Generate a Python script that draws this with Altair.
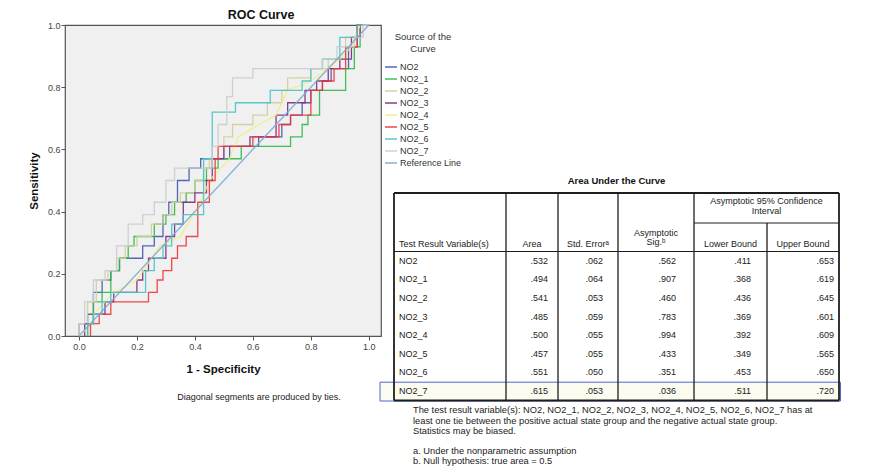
import altair as alt
import pandas as pd

FONT = "Liberation Sans"

# ---------------- ROC curves: (1 - specificity, sensitivity) corner points
NO2 = [(0.00, 0.00), (0.00, 0.04), (0.03, 0.04), (0.03, 0.07), (0.05, 0.07), (0.05, 0.14), (0.08, 0.14),
       (0.08, 0.18), (0.11, 0.18), (0.11, 0.21), (0.14, 0.21), (0.14, 0.25), (0.22, 0.25), (0.22, 0.29),
       (0.26, 0.29), (0.26, 0.32), (0.29, 0.32), (0.29, 0.39), (0.31, 0.39), (0.31, 0.43), (0.34, 0.43),
       (0.34, 0.50), (0.38, 0.50), (0.38, 0.54), (0.42, 0.54), (0.42, 0.57), (0.52, 0.57), (0.52, 0.61),
       (0.62, 0.61), (0.62, 0.64), (0.70, 0.64), (0.70, 0.68), (0.73, 0.68), (0.73, 0.71), (0.77, 0.71),
       (0.77, 0.75), (0.80, 0.75), (0.80, 0.79), (0.84, 0.79), (0.84, 0.82), (0.87, 0.82), (0.87, 0.86),
       (0.93, 0.86), (0.93, 0.93), (0.96, 0.93), (0.96, 1.00), (1.00, 1.00)]
NO2_1 = [(0.03, 0.00), (0.03, 0.04), (0.05, 0.04), (0.05, 0.11), (0.08, 0.11), (0.08, 0.14), (0.11, 0.14),
         (0.11, 0.21), (0.14, 0.21), (0.14, 0.25), (0.17, 0.25), (0.17, 0.29), (0.19, 0.29), (0.19, 0.32),
         (0.26, 0.32), (0.26, 0.36), (0.30, 0.36), (0.30, 0.39), (0.33, 0.39), (0.33, 0.43), (0.37, 0.43),
         (0.37, 0.46), (0.40, 0.46), (0.40, 0.50), (0.44, 0.50), (0.44, 0.54), (0.48, 0.54), (0.48, 0.57),
         (0.56, 0.57), (0.56, 0.61), (0.73, 0.61), (0.73, 0.64), (0.77, 0.64), (0.77, 0.68), (0.79, 0.68),
         (0.79, 0.71), (0.83, 0.71), (0.83, 0.79), (0.92, 0.79), (0.92, 0.86), (0.95, 0.86), (0.95, 0.93),
         (0.97, 0.93), (0.97, 1.00), (1.00, 1.00)]
NO2_2 = [(0.00, 0.00), (0.00, 0.04), (0.03, 0.04), (0.03, 0.11), (0.06, 0.11), (0.06, 0.18), (0.10, 0.18),
         (0.10, 0.21), (0.13, 0.21), (0.13, 0.25), (0.16, 0.25), (0.16, 0.29), (0.20, 0.29), (0.20, 0.32),
         (0.25, 0.32), (0.25, 0.36), (0.29, 0.36), (0.29, 0.39), (0.32, 0.39), (0.32, 0.43), (0.35, 0.43),
         (0.35, 0.46), (0.40, 0.46), (0.40, 0.50), (0.43, 0.50), (0.43, 0.54), (0.45, 0.54), (0.45, 0.57),
         (0.50, 0.57), (0.50, 0.64), (0.53, 0.64), (0.53, 0.68), (0.60, 0.68), (0.60, 0.71), (0.65, 0.71),
         (0.65, 0.75), (0.70, 0.75), (0.70, 0.79), (0.72, 0.79), (0.72, 0.83), (0.80, 0.83), (0.80, 0.86),
         (0.86, 0.86), (0.86, 0.89), (0.92, 0.89), (0.92, 0.96), (0.97, 0.96), (0.97, 1.00), (1.00, 1.00)]
NO2_3 = [(0.02, 0.00), (0.02, 0.04), (0.05, 0.04), (0.05, 0.07), (0.09, 0.07), (0.09, 0.11), (0.12, 0.11),
         (0.12, 0.14), (0.20, 0.14), (0.20, 0.18), (0.22, 0.18), (0.22, 0.21), (0.24, 0.21), (0.24, 0.25),
         (0.30, 0.25), (0.30, 0.32), (0.33, 0.32), (0.33, 0.36), (0.36, 0.36), (0.36, 0.43), (0.40, 0.43),
         (0.40, 0.46), (0.44, 0.46), (0.44, 0.50), (0.46, 0.50), (0.46, 0.57), (0.50, 0.57), (0.50, 0.61),
         (0.59, 0.61), (0.59, 0.64), (0.68, 0.64), (0.68, 0.71), (0.72, 0.71), (0.72, 0.75), (0.78, 0.75),
         (0.78, 0.79), (0.82, 0.79), (0.82, 0.82), (0.86, 0.82), (0.86, 0.86), (0.90, 0.86), (0.90, 0.89),
         (0.94, 0.89), (0.94, 0.96), (0.97, 0.96), (0.97, 1.00), (1.00, 1.00)]
NO2_4 = [(0.00, 0.00), (0.05, 0.04), (0.05, 0.07), (0.12, 0.14), (0.20, 0.18), (0.28, 0.29), (0.35, 0.32),
         (0.42, 0.43), (0.45, 0.50), (0.52, 0.57), (0.55, 0.64), (0.62, 0.68), (0.68, 0.71), (0.72, 0.79),
         (0.80, 0.82), (0.86, 0.86), (0.90, 0.89), (0.94, 0.93), (0.97, 1.00), (1.00, 1.00)]
NO2_5 = [(0.04, 0.00), (0.04, 0.04), (0.07, 0.04), (0.07, 0.07), (0.11, 0.07), (0.11, 0.11), (0.24, 0.11),
         (0.24, 0.14), (0.27, 0.14), (0.27, 0.18), (0.29, 0.18), (0.29, 0.21), (0.32, 0.21), (0.32, 0.25),
         (0.34, 0.25), (0.34, 0.29), (0.37, 0.29), (0.37, 0.32), (0.41, 0.32), (0.41, 0.43), (0.45, 0.43),
         (0.45, 0.50), (0.47, 0.50), (0.47, 0.57), (0.48, 0.57), (0.48, 0.61), (0.60, 0.61), (0.60, 0.64),
         (0.69, 0.64), (0.69, 0.68), (0.73, 0.68), (0.73, 0.71), (0.80, 0.71), (0.80, 0.79), (0.84, 0.79),
         (0.84, 0.82), (0.88, 0.82), (0.88, 0.86), (0.92, 0.86), (0.92, 0.93), (0.96, 0.93), (0.96, 1.00),
         (1.00, 1.00)]
NO2_6 = [(0.03, 0.00), (0.03, 0.04), (0.05, 0.04), (0.05, 0.07), (0.08, 0.07), (0.08, 0.11), (0.11, 0.11),
         (0.11, 0.14), (0.23, 0.14), (0.23, 0.21), (0.26, 0.21), (0.26, 0.25), (0.29, 0.25), (0.29, 0.29),
         (0.32, 0.29), (0.32, 0.36), (0.36, 0.36), (0.36, 0.39), (0.43, 0.39), (0.43, 0.57), (0.46, 0.57),
         (0.46, 0.72), (0.54, 0.72), (0.54, 0.75), (0.66, 0.75), (0.66, 0.79), (0.77, 0.79), (0.77, 0.82),
         (0.80, 0.82), (0.80, 0.86), (0.84, 0.86), (0.84, 0.89), (0.90, 0.89), (0.90, 0.96), (0.96, 0.96),
         (0.96, 1.00), (1.00, 1.00)]
NO2_7 = [(0.00, 0.00), (0.00, 0.04), (0.02, 0.04), (0.02, 0.11), (0.05, 0.11), (0.05, 0.18), (0.09, 0.18),
         (0.09, 0.21), (0.13, 0.21), (0.13, 0.29), (0.17, 0.29), (0.17, 0.36), (0.22, 0.36), (0.22, 0.39),
         (0.26, 0.39), (0.26, 0.43), (0.30, 0.43), (0.30, 0.50), (0.33, 0.50), (0.33, 0.54), (0.46, 0.54),
         (0.46, 0.61), (0.48, 0.61), (0.48, 0.68), (0.51, 0.68), (0.51, 0.77), (0.53, 0.77), (0.53, 0.83),
         (0.60, 0.83), (0.60, 0.86), (0.84, 0.86), (0.84, 0.89), (0.89, 0.89), (0.89, 0.93), (0.95, 0.93),
         (0.95, 0.96), (0.98, 0.96), (0.98, 1.00), (1.00, 1.00)]
REFERENCE = [(0.0, 0.0), (1.0, 1.0)]

SERIES = ["NO2", "NO2_1", "NO2_2", "NO2_3", "NO2_4", "NO2_5", "NO2_6", "NO2_7", "Reference Line"]
CURVES = [NO2, NO2_1, NO2_2, NO2_3, NO2_4, NO2_5, NO2_6, NO2_7, REFERENCE]
COLORS = ["#3E58AC", "#2EB848", "#D3CE97", "#7C287D", "#F3EE7A", "#EF3338", "#48C2C5", "#CCCCCC", "#7AAAD5"]
TICKS = [0.0, 0.2, 0.4, 0.6, 0.8, 1.0]

# ---------------- Area Under the Curve table
VARS = ["NO2", "NO2_1", "NO2_2", "NO2_3", "NO2_4", "NO2_5", "NO2_6", "NO2_7"]
AREA = [".532", ".494", ".541", ".485", ".500", ".457", ".551", ".615"]
STD_ERR = [".062", ".064", ".053", ".059", ".055", ".055", ".050", ".053"]
SIG = [".562", ".907", ".460", ".783", ".994", ".433", ".351", ".036"]
LOWER = [".411", ".368", ".436", ".369", ".392", ".349", ".453", ".511"]
UPPER = [".653", ".619", ".645", ".601", ".609", ".565", ".650", ".720"]
FOOTNOTES = [
    "The test result variable(s): NO2, NO2_1, NO2_2, NO2_3, NO2_4, NO2_5, NO2_6, NO2_7 has at",
    "least one tie between the positive actual state group and the negative actual state group.",
    "Statistics may be biased.",
    "a. Under the nonparametric assumption",
    "b. Null hypothesis: true area = 0.5",
]

# ---------------- layout (page pixels)
PLOT_X, PLOT_Y, PLOT_W, PLOT_H = 63, 25, 316, 311
COL_EDGES = [392, 504, 556, 616, 692, 765, 837]
VALUE_RIGHT = [546, 601, 674, 749, 832]
T_TOP, CI_LINE, HEAD_BOTTOM, T_BOTTOM = 193, 223, 251.5, 400.5
ROW0, ROW_H = 260.8, 18.6
FOOT_Y = [410, 420.5, 431, 450.5, 461]

px_scale = alt.Scale(domain=[0, 879], range=[-PLOT_X, 879 - PLOT_X], nice=False, zero=False)
py_scale = alt.Scale(domain=[0, 466], range=[-PLOT_Y, 466 - PLOT_Y], nice=False, zero=False)

# ---------------- ROC layer
rows = []
for name, pts in zip(SERIES, CURVES):
    for i, (fx, ty) in enumerate(pts):
        rows.append({"series": name, "fpr": fx, "tpr": ty, "idx": i})
roc_df = pd.DataFrame(rows)

axis_common = dict(values=TICKS, format=".1f", grid=False, domain=False, tickSize=4, tickColor="#555",
                   labelFontSize=9, labelColor="#444", labelFont=FONT, titleFont=FONT,
                   titleFontSize=11.5, titleFontWeight="bold", titleColor="#111")

roc = alt.Chart(roc_df).mark_line(strokeWidth=1.3, opacity=0.9).encode(
    x=alt.X("fpr:Q", scale=alt.Scale(domain=[-0.048, 1.042], nice=False, zero=False),
            axis=alt.Axis(title="1 - Specificity", labelPadding=2, titlePadding=12, **axis_common)),
    y=alt.Y("tpr:Q", scale=alt.Scale(domain=[0, 1], nice=False),
            axis=alt.Axis(title="Sensitivity", labelPadding=1, titlePadding=8, **axis_common)),
    color=alt.Color("series:N", scale=alt.Scale(domain=SERIES, range=COLORS),
                    legend=alt.Legend(title=["Source of the", "Curve"], orient="none", legendX=319, legendY=7,
                                      symbolType="stroke", symbolSize=144, symbolStrokeWidth=1.5,
                                      labelFontSize=9, labelColor="#333", labelFont=FONT, labelOffset=2,
                                      titleFont=FONT, titleFontSize=9.5, titleFontWeight="normal",
                                      titleColor="#333", titleAlign="center", titleAnchor="middle",
                                      titleLineHeight=11.5, titlePadding=7, rowPadding=0, padding=0)),
    order="idx:Q",
)

# ---------------- table pieces
def pos(xf, yf):
    return dict(x=alt.X(xf, scale=px_scale, axis=None), y=alt.Y(yf, scale=py_scale, axis=None))

box_df = pd.DataFrame([{"x1": 378, "x2": 838.5, "y1": ROW0 + 7 * ROW_H - 8.8, "y2": T_BOTTOM + 0.5}])
box = alt.Chart(box_df).mark_rect(fill="#fbfbef", stroke="#5566cc", strokeWidth=1).encode(
    x2="x2:Q", y2="y2:Q", **pos("x1:Q", "y1:Q"))

segs = []
L, R = COL_EDGES[0], COL_EDGES[-1]
segs += [dict(x1=L, x2=R, y1=T_TOP, y2=T_TOP, w=1.8), dict(x1=L, x2=R, y1=T_BOTTOM, y2=T_BOTTOM, w=1.8),
         dict(x1=L, x2=L, y1=T_TOP, y2=T_BOTTOM, w=1.8), dict(x1=R, x2=R, y1=T_TOP, y2=T_BOTTOM, w=1.8)]
for e in COL_EDGES[1:5]:
    segs.append(dict(x1=e, x2=e, y1=T_TOP, y2=T_BOTTOM, w=1.3))
segs.append(dict(x1=COL_EDGES[5], x2=COL_EDGES[5], y1=CI_LINE, y2=T_BOTTOM, w=1.3))
segs.append(dict(x1=COL_EDGES[4], x2=R, y1=CI_LINE, y2=CI_LINE, w=1))
segs.append(dict(x1=L, x2=R, y1=HEAD_BOTTOM, y2=HEAD_BOTTOM, w=1))
seg_df = pd.DataFrame(segs)
rules = alt.Chart(seg_df).mark_rule(color="#1e1e1e").encode(
    x2="x2:Q", y2="y2:Q", strokeWidth=alt.StrokeWidth("w:Q", scale=None), **pos("x1:Q", "y1:Q"))

def centre(a, b):
    return (COL_EDGES[a] + COL_EDGES[b]) / 2

left_cells = [dict(label="Test Result Variable(s)", px=COL_EDGES[0] + 5, py=244)]
left_cells += [dict(label=v, px=COL_EDGES[0] + 5, py=ROW0 + i * ROW_H) for i, v in enumerate(VARS)]
centre_cells = [
    dict(label="Area", px=centre(1, 2), py=244),
    dict(label="Std. Error\u1d43", px=centre(2, 3), py=244),
    dict(label="Asymptotic", px=centre(3, 4), py=233),
    dict(label="Sig.\u1d47", px=centre(3, 4), py=242),
    dict(label="Asymptotic 95% Confidence", px=centre(4, 6), py=201),
    dict(label="Interval", px=centre(4, 6), py=211),
    dict(label="Lower Bound", px=centre(4, 5), py=244),
    dict(label="Upper Bound", px=centre(5, 6), py=244),
    dict(label="Diagonal segments are produced by ties.", px=257, py=397),
]
right_cells = []
for c, col in enumerate([AREA, STD_ERR, SIG, LOWER, UPPER]):
    for i, v in enumerate(col):
        right_cells.append(dict(label=v, px=VALUE_RIGHT[c], py=ROW0 + i * ROW_H))
foot_cells = [dict(label=t, px=411, py=y) for t, y in zip(FOOTNOTES, FOOT_Y)]


def text_layer(cells, align, size=9, bold=False, color="#222"):
    return alt.Chart(pd.DataFrame(cells)).mark_text(
        align=align, baseline="middle", font=FONT, fontSize=size,
        fontWeight="bold" if bold else "normal", color=color).encode(
        text="label:N", **pos("px:Q", "py:Q"))


t_left = text_layer(left_cells, "left")
t_centre = text_layer(centre_cells, "center")
t_right = text_layer(right_cells, "right")
t_foot = text_layer(foot_cells, "left", size=9.3)
t_title = text_layer([dict(label="Area Under the Curve", px=centre(0, 6), py=181)], "center", size=9.5, bold=True,
                     color="#111")

chart = alt.layer(roc, box, rules, t_left, t_centre, t_right, t_foot, t_title).resolve_scale(
    x="independent", y="independent"
).properties(
    width=PLOT_W, height=PLOT_H,
    title=alt.TitleParams("ROC Curve", fontSize=12.5, fontWeight="bold", font=FONT, color="#111",
                          anchor="middle", frame="group", dx=38, offset=0),
    padding={"left": 20, "top": 0, "right": 0, "bottom": 0},
    background="white",
).configure_view(fill="#f0f0f0", stroke="#555", strokeWidth=1.2)

chart.save("out.html", embed_options={"renderer": "svg", "actions": False})
